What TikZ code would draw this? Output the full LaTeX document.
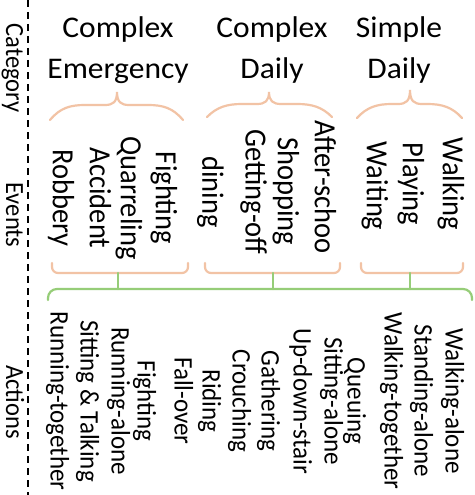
\documentclass[tikz,border=0pt]{standalone}
\usepackage{fontspec}
\setmainfont{Carlito}
\definecolor{brc}{RGB}{242,195,165}
\definecolor{grc}{RGB}{150,205,120}
\newcommand\topbrace[6]{%
  \draw[obr] (#1,#4) .. controls (#1+10,#5+3) and (#1+20,#5) .. (#1+35,#5)
    -- (#2-12,#5) .. controls (#2-4,#5) and (#2,#5-3) .. (#2,#6)
    .. controls (#2,#5-3) and (#2+4,#5) .. (#2+12,#5)
    -- (#3-35,#5) .. controls (#3-20,#5) and (#3-10,#5+3) .. (#3,#4);}
\newcommand\botbracket[2]{%
  \draw[obr, rounded corners=6pt] (#1,263) -- (#1,273) -- (#2,273) -- (#2,263);}
\begin{document}
\begin{tikzpicture}[x=1pt,y=-1pt,
  head/.style={font=\fontsize{30}{41}\selectfont, align=center, inner sep=0pt, xscale=1.05},
  lab/.style={font=\fontsize{24.5}{30}\selectfont, rotate=-90, yscale=1.07, inner sep=0pt, text height=16pt, text depth=5pt},
  ev/.style={font=\fontsize{28.5}{40}\selectfont, rotate=-90, yscale=1.08, inner sep=0pt},
  evs/.style={ev, text height=19pt, text depth=6pt},
  act/.style={font=\fontsize{25}{30}\selectfont, rotate=-90, yscale=1.07, inner sep=0pt, text height=17pt, text depth=5pt},
  obr/.style={draw=brc, line width=2.2pt, line cap=round},
  gbr/.style={draw=grc, line width=2.2pt, line cap=round},
  sepline/.style={draw=black, line width=1.5pt, dash pattern=on 7pt off 5pt}]
\useasboundingbox (0,0) rectangle (474,495);
\fill[white] (0,0) rectangle (474,495);

% separator
\coordinate (st) at (28,0);
\coordinate (sb) at (28,495);
\draw[sepline] (st) -- (sb);

% row labels
\node[lab] (lcat) at (12,68) {Category};
\node[lab] (lev) at (12,215) {Events};
\node[lab] (lact) at (12,402) {Actions};

% categories
\node[head] (c1) at (118,50) {Complex\\Emergency};
\node[head] (c2) at (272,50) {Complex\\Daily};
\node[head] (c3) at (399,50) {Simple\\Daily};

% top braces
\topbrace{50}{117}{183}{120}{105}{92}
\topbrace{207}{269}{332}{117}{104}{92}
\topbrace{357}{410}{462}{118}{104}{90}

% events
\node[evs] (e1) at (60,198) {Robbery};
\node[evs] (e2) at (97,198) {Accident};
\node[evs] (e3) at (128,198) {Quarreling};
\node[evs] (e4) at (163,198) {Fighting};
\node[ev, align=center] (e5) at (232,192) {Getting-off\\dining};
\node[evs] (e6) at (285,191) {Shopping};
\node[evs] (e7) at (322,187) {After-schoo};
\node[evs] (e8) at (374,186) {Waiting};
\node[evs] (e9) at (410,184) {Playing};
\node[evs] (e10) at (450,184) {Walking};

% lower brackets
\botbracket{52}{188}
\botbracket{205}{340}
\botbracket{361}{463}

% green bracket
\coordinate (t1) at (118,273);
\coordinate (t2) at (273,273);
\coordinate (t3) at (410,273);
\coordinate (g1) at (118,289);
\coordinate (g2) at (273,289);
\coordinate (g3) at (410,289);
\draw[gbr] (t1) -- (g1);
\draw[gbr] (t2) -- (g2);
\draw[gbr] (t3) -- (g3);
\draw[gbr, rounded corners=9pt] (48,300) -- (48,289) -- (472,289) -- (472,300);

% actions
\node[act] (a1) at (57,401) {Running-together};
\node[act] (a2) at (87,401) {Sitting \& Talking};
\node[act] (a3) at (118,401) {Running-alone};
\node[act] (a4) at (144,401) {Fighting};
\node[act] (a5) at (181,401) {Fall-over};
\node[act] (a6) at (209,401) {Riding};
\node[act] (a7) at (239,401) {Crouching};
\node[act] (a8) at (268,401) {Gathering};
\node[act] (a9) at (300,401) {Up-down-stair};
\node[act] (a10) at (331,401) {Sitting-alone};
\node[act] (a11) at (354,401) {Queuing};
\node[act] (a12) at (391,401) {Walking-together};
\node[act] (a13) at (421,401) {Standing-alone};
\node[act] (a14) at (452,401) {Walking-alone};
\end{tikzpicture}
\end{document}
